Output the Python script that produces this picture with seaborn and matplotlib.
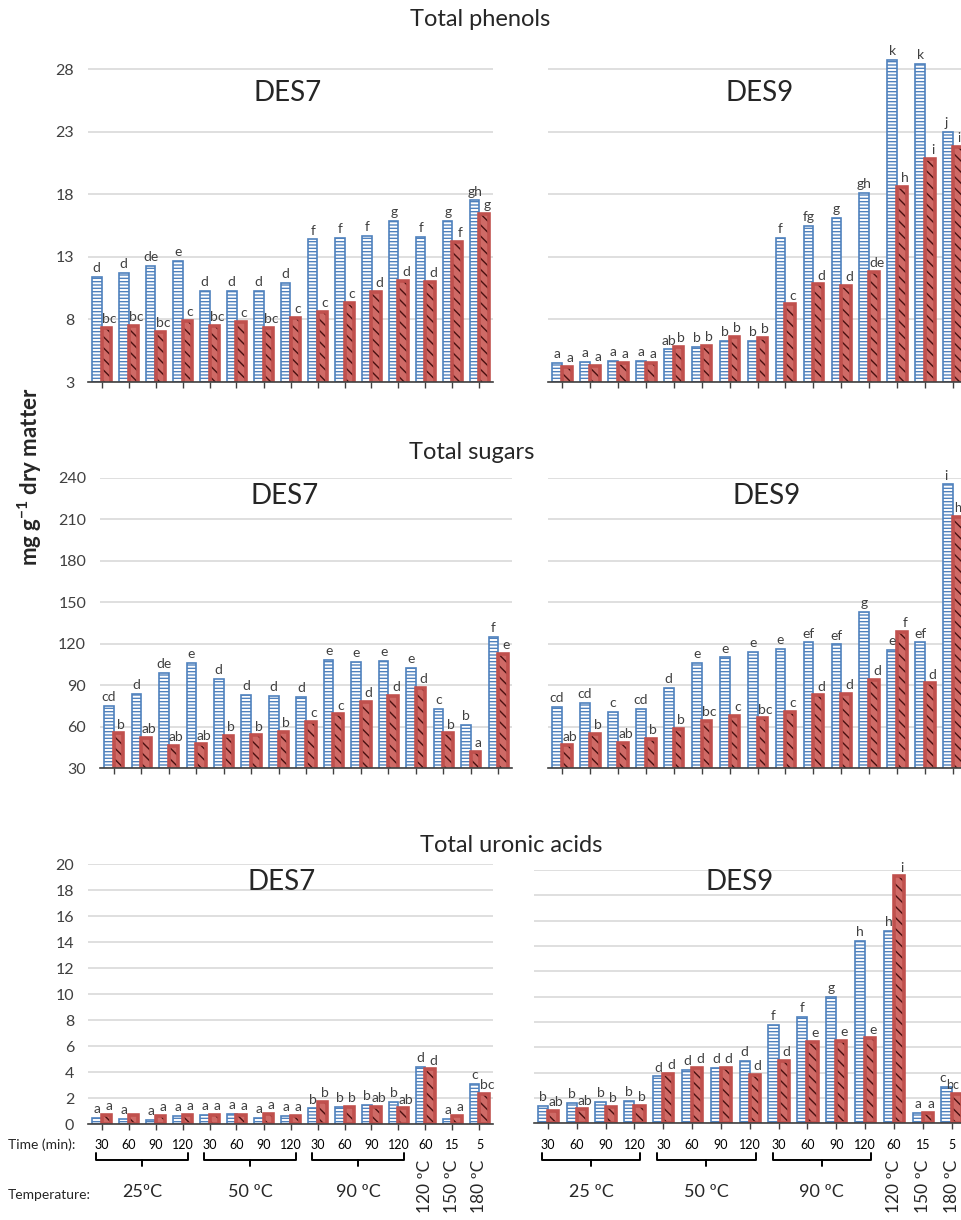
import numpy as np
import pandas as pd
import matplotlib
matplotlib.use('Agg')
import matplotlib.pyplot as plt
import matplotlib.transforms as mtransforms
from matplotlib.patches import Rectangle
import seaborn as sns

sns.set_style('white')
plt.rcParams['font.family'] = ['Lato', 'DejaVu Sans']
plt.rcParams['mathtext.fontset'] = 'custom'
plt.rcParams['mathtext.rm'] = 'Lato'
plt.rcParams['mathtext.bf'] = 'Lato:bold'
plt.rcParams['hatch.linewidth'] = 1.0

# conditions (temperature / time)
times = ['30', '60', '90', '120'] * 3 + ['60', '15', '5']
temps = ['25'] * 4 + ['50'] * 4 + ['90'] * 4 + ['120', '150', '180']
conds = [t + '_' + m for t, m in zip(temps, times)]
series = ['s1', 's2']

# Total phenols
phen7_s1 = [11.4, 11.7, 12.3, 12.7, 10.3, 10.3, 10.3, 10.9, 14.4, 14.5, 14.7, 15.9, 14.6, 15.9, 17.5]
phen7_s2 = [7.3, 7.5, 7.0, 7.9, 7.5, 7.8, 7.3, 8.1, 8.6, 9.3, 10.2, 11.1, 11.0, 14.2, 16.4]
phen7_l1 = ['d', 'd', 'de', 'e', 'd', 'd', 'd', 'd', 'f', 'f', 'f', 'g', 'f', 'g', 'gh']
phen7_l2 = ['bc', 'bc', 'bc', 'c', 'bc', 'c', 'bc', 'c', 'c', 'c', 'd', 'd', 'd', 'f', 'g']

phen9_s1 = [4.5, 4.6, 4.7, 4.7, 5.6, 5.8, 6.3, 6.3, 14.5, 15.5, 16.1, 18.1, 28.7, 28.4, 23.0]
phen9_s2 = [4.2, 4.3, 4.5, 4.5, 5.8, 5.9, 6.6, 6.5, 9.2, 10.8, 10.7, 11.8, 18.6, 20.8, 21.8]
phen9_l1 = ['a', 'a', 'a', 'a', 'ab', 'b', 'b', 'b', 'f', 'fg', 'g', 'gh', 'k', 'k', 'j']
phen9_l2 = ['a', 'a', 'a', 'a', 'b', 'b', 'b', 'b', 'c', 'd', 'd', 'de', 'h', 'i', 'i']

# Total sugars
sug7_s1 = [75.0, 83.7, 99.1, 105.9, 94.8, 83.0, 82.5, 81.8, 108.3, 107.1, 107.8, 102.7, 73.1, 61.1, 125.1]
sug7_s2 = [55.3, 51.7, 46.1, 47.3, 53.4, 53.8, 56.3, 63.5, 69.0, 78.2, 82.5, 88.3, 55.3, 41.8, 112.4]
sug7_l1 = ['cd', 'd', 'de', 'e', 'd', 'd', 'd', 'd', 'e', 'e', 'e', 'e', 'c', 'b', 'f']
sug7_l2 = ['b', 'ab', 'ab', 'ab', 'b', 'b', 'b', 'c', 'c', 'd', 'd', 'd', 'b', 'a', 'e']

sug9_s1 = [74.6, 77.4, 70.7, 73.1, 88.3, 105.9, 110.2, 114.1, 116.5, 121.0, 119.6, 143.2, 115.5, 121.0, 235.2]
sug9_s2 = [46.6, 54.6, 48.1, 51.0, 58.7, 64.2, 68.1, 66.1, 70.9, 82.7, 83.5, 93.8, 128.7, 91.4, 211.4]
sug9_l1 = ['cd', 'cd', 'c', 'cd', 'd', 'e', 'e', 'e', 'e', 'ef', 'ef', 'g', 'e', 'ef', 'i']
sug9_l2 = ['ab', 'b', 'ab', 'b', 'b', 'bc', 'c', 'bc', 'c', 'd', 'd', 'd', 'f', 'd', 'h']

# Total uronic acids
uro7_s1 = [0.5, 0.4, 0.3, 0.6, 0.7, 0.8, 0.5, 0.6, 1.2, 1.3, 1.5, 1.7, 4.4, 0.4, 3.1]
uro7_s2 = [0.7, 0.7, 0.6, 0.7, 0.7, 0.7, 0.8, 0.6, 1.7, 1.3, 1.3, 1.2, 4.2, 0.6, 2.3]
uro7_l1 = ['a'] * 8 + ['b', 'b', 'b', 'b', 'd', 'a', 'c']
uro7_l2 = ['a', '', 'a', 'a', 'a', 'a', 'a', 'a', 'b', 'b', 'ab', 'ab', 'd', 'a', 'bc']

uro9_s1 = [1.4, 1.6, 1.7, 1.8, 3.7, 4.2, 4.4, 4.9, 7.8, 8.4, 10.0, 14.4, 15.2, 0.8, 2.9]
uro9_s2 = [1.0, 1.1, 1.3, 1.4, 3.9, 4.4, 4.4, 3.8, 4.9, 6.4, 6.5, 6.7, 19.5, 0.8, 2.3]
uro9_l1 = ['b', 'b', 'b', 'b', 'd', 'd', 'd', 'd', 'f', 'f', 'g', 'h', 'h', 'a', 'c']
uro9_l2 = ['ab', 'ab', 'b', 'b', 'd', 'd', 'd', 'd', 'd', 'e', 'e', 'e', 'i', 'a', 'bc']

BLUE = '#4F81BD'
RED = '#C0504D'
HATCH_RED = '#4a1010'
W, H = 961, 1220

fig = plt.figure(figsize=(W / 100, H / 100), dpi=100)


def px_axes(x0, y0, x1, y1):
    return fig.add_axes([x0 / W, 1 - y1 / H, (x1 - x0) / W, (y1 - y0) / H])


def ftext(x, y, s, **kw):
    fig.text(x / W, 1 - y / H, s, **kw)


def draw(ax, v1, v2, l1, l2, ylim, yticks, show_y):
    df = pd.DataFrame({'cond': conds * 2,
                       'series': ['s1'] * len(conds) + ['s2'] * len(conds),
                       'value': v1 + v2})
    sns.barplot(data=df, x='cond', y='value', hue='series', order=conds,
                hue_order=series, palette=[BLUE, RED], width=0.7,
                saturation=1, legend=False, errorbar=None, ax=ax)
    n = len(conds)
    for i, p in enumerate(ax.patches[:2 * n]):
        x = p.get_x() + p.get_width() / 2
        top = p.get_height()
        # last group of the right-hand panels runs into the figure edge
        at_edge = (not show_y) and (i % n == n - 1)
        fs = 10
        if i < n:
            p.set_facecolor('white')
            p.set_edgecolor(BLUE)
            p.set_hatch('-----')
            p.set_linewidth(1.2)
            lab = l1[i]
            dx, ha = (-0.5, 'right') if at_edge else (0, 'center')
        else:
            p.set_facecolor('#cf6a66')
            p.set_edgecolor(HATCH_RED)
            p.set_hatch('\\\\\\')
            p.set_linewidth(0)
            ax.add_patch(Rectangle((p.get_x(), p.get_y()), p.get_width(), top,
                                   fill=False, edgecolor=RED, lw=2.6, zorder=p.get_zorder() + 0.1))
            lab = l2[i - n]
            dx, ha = (2, 'center')
            if at_edge:
                dx, ha, fs = 2, 'right', 9
        if lab:
            ax.annotate(lab, (x, top), xytext=(dx, 2), textcoords='offset points',
                        ha=ha, va='bottom', fontsize=fs, color='#404040',
                        annotation_clip=False)
    ax.set_xlim(-0.5, n - 0.5)
    ax.set_ylim(*ylim)
    ax.set_yticks(yticks)
    ax.set_xlabel('')
    ax.set_ylabel('')
    ax.yaxis.grid(True, color='#d9d9d9', lw=1.2)
    ax.set_axisbelow(True)
    for s in ['left', 'right', 'top']:
        ax.spines[s].set_visible(False)
    ax.spines['bottom'].set_color('#404040')
    ax.spines['bottom'].set_linewidth(1.2)
    ax.tick_params(axis='x', direction='out', length=4, width=1, color='#404040',
                   bottom=True, labelbottom=False)
    ax.tick_params(axis='y', length=0, pad=10, labelsize=11.5, labelcolor='#404040',
                   labelleft=show_y)


# panels
ax1 = px_axes(88, 44, 493, 382)
draw(ax1, phen7_s1, phen7_s2, phen7_l1, phen7_l2, (3, 30), [3, 8, 13, 18, 23, 28], True)
ax2 = px_axes(548, 44, 967, 382)
draw(ax2, phen9_s1, phen9_s2, phen9_l1, phen9_l2, (3, 30), [3, 8, 13, 18, 23, 28], False)

ax3 = px_axes(100, 477.7, 512, 768.3)
draw(ax3, sug7_s1, sug7_s2, sug7_l1, sug7_l2, (30, 240), [30, 60, 90, 120, 150, 180, 210, 240], True)
ax4 = px_axes(548, 477.7, 967, 768.3)
draw(ax4, sug9_s1, sug9_s2, sug9_l1, sug9_l2, (30, 240), [30, 60, 90, 120, 150, 180, 210, 240], False)

ax5 = px_axes(88, 864.3, 493, 1124)
draw(ax5, uro7_s1, uro7_s2, uro7_l1, uro7_l2, (0, 20), list(range(0, 21, 2)), True)
ax6 = px_axes(533.5, 870, 966, 1123.3)
draw(ax6, uro9_s1, uro9_s2, uro9_l1, uro9_l2, (0, 20), list(range(0, 21, 2)), False)

# titles
ftext(480, 20, 'Total phenols', ha='center', va='center', fontsize=17)
ftext(472, 452, 'Total sugars', ha='center', va='center', fontsize=17)
ftext(511, 845, 'Total uronic acids', ha='center', va='center', fontsize=17)
for x, y, s in [(288, 93, 'DES7'), (760, 93, 'DES9'), (285, 496, 'DES7'),
                (767, 496, 'DES9'), (282, 882, 'DES7'), (740, 882, 'DES9')]:
    ftext(x, y, s, ha='center', va='center', fontsize=20)

ftext(30, 477, r'mg g$^{\mathbf{-1}}$ dry matter', rotation=90, ha='center',
      va='center', fontsize=16, fontweight='bold')

# time / temperature annotations under bottom panels
ftext(8, 1145, 'Time (min):', ha='left', va='center', fontsize=10)
ftext(8, 1195, 'Temperature:', ha='left', va='center', fontsize=10)

temp_groups = [(0, 3), (4, 7), (8, 11)]
for ax, tlabels in [(ax5, ['25ºC', '50 ºC', '90 ºC']), (ax6, ['25 ºC', '50 ºC', '90 ºC'])]:
    ax.tick_params(axis='x', labelbottom=True, labelsize=9, pad=7, labelcolor='black')
    ax.set_xticks(range(len(conds)))
    ax.set_xticklabels(times)
    tr = mtransforms.blended_transform_factory(ax.transData, fig.transFigure)
    y_end, y_mid, y_stem = 1 - 1153 / H, 1 - 1160 / H, 1 - 1166 / H
    for (a, b), lab in zip(temp_groups, tlabels):
        x0, x1 = a - 0.2, b + 0.2
        xc = (x0 + x1) / 2
        ax.plot([x0, x0, x1, x1], [y_end, y_mid, y_mid, y_end], color='black', lw=1.4,
                transform=tr, clip_on=False)
        ax.plot([xc, xc], [y_mid, y_stem], color='black', lw=1.4, transform=tr, clip_on=False)
        ax.text(xc, 1 - 1192 / H, lab, transform=tr, ha='center', va='center', fontsize=13)
    for k, lab in zip([12, 13, 14], ['120 ºC', '150 ºC', '180 ºC']):
        ax.text(k, 1 - 1160 / H, lab, transform=tr, rotation=90, ha='center', va='top',
                fontsize=12.5)

fig.savefig('out.png', dpi=100)
